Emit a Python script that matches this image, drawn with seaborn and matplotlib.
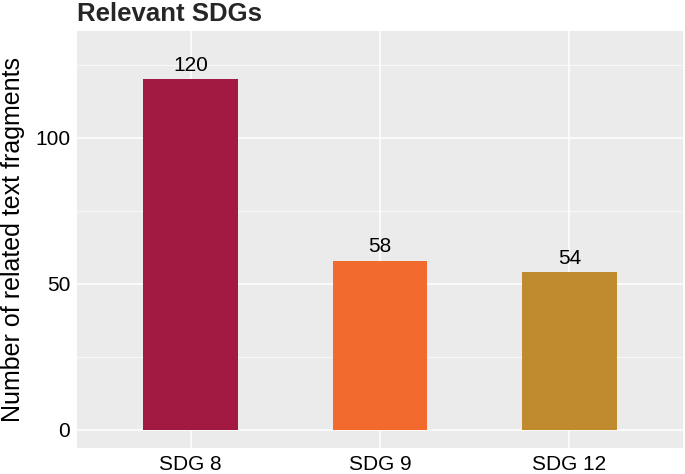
import pandas as pd
import matplotlib.pyplot as plt
import seaborn as sns

# DATA
sdgs = ['SDG 8', 'SDG 9', 'SDG 12']
counts = [120, 58, 54]
bar_colors = ['#A21942', '#F26A2E', '#BF8B2E']

df = pd.DataFrame({'SDG': sdgs, 'Count': counts})

sns.set_style('darkgrid', {'axes.facecolor': '#EBEBEB', 'grid.color': 'white'})
plt.rcParams['font.family'] = ['Liberation Sans', 'DejaVu Sans']

fig = plt.figure(figsize=(6.85, 4.74), dpi=100)
ax = fig.add_axes([0.1124, 0.0549, 0.8846, 0.8797])

sns.barplot(data=df, x='SDG', y='Count', hue='SDG', palette=bar_colors,
            width=0.5, legend=False, ax=ax, saturation=1, linewidth=0)

# value labels above bars
for i, v in enumerate(counts):
    ax.text(i, v + 1.5, str(v), ha='center', va='bottom', fontsize=15, color='black')

ax.set_xlim(-0.6, 2.6)
ax.set_ylim(-6.2, 136.6)
ax.set_yticks([0, 50, 100])
ax.set_yticks([25, 75, 125], minor=True)
ax.grid(which='major', color='white', linewidth=1.1)
ax.grid(which='minor', axis='y', color='white', linewidth=0.5)
ax.set_axisbelow(True)
for s in ax.spines.values():
    s.set_visible(False)

ax.tick_params(axis='both', which='major', length=3, width=0.8, color='#333333',
               labelsize=15, labelcolor='black', pad=2)
ax.tick_params(axis='y', which='minor', length=0)

ax.set_xlabel('')
ax.set_ylabel('Number of related text fragments', fontsize=18, color='black', labelpad=7)
fig.text(0.1124, 0.945, 'Relevant SDGs', fontsize=18.5, fontweight='bold', ha='left', va='bottom')

fig.savefig('out.png', dpi=100)
